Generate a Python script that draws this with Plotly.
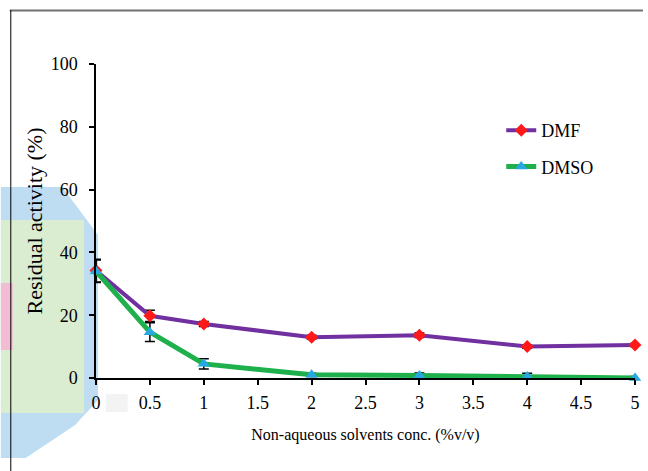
import plotly.graph_objects as go

conc = [0, 0.5, 1, 2, 3, 4, 5]
dmf = [34.2, 19.8, 17.2, 13.0, 13.6, 10.0, 10.5]
dmf_err = [3.6, 1.8, 0.8, 0.6, 0.7, 0.5, 0.5]
dmso = [34.0, 14.6, 4.5, 1.0, 0.8, 0.5, 0.0]
dmso_err = [3.6, 3.0, 1.6, 0.5, 0.8, 1.0, 0.5]
x_ticks = [0, 0.5, 1, 1.5, 2, 2.5, 3, 3.5, 4, 4.5, 5]
y_ticks = [0, 20, 40, 60, 80, 100]

W, H = 648, 471
L, R, T, B = 96, 8, 64, 93
PW, PH = W - L - R, H - T - B


def px(x):
    return (x - L) / PW


def py(y):
    return (H - B - y) / PH


FONT = "Liberation Serif, 'Times New Roman', Times, serif"

fig = go.Figure()
fig.add_trace(go.Scatter(
    x=conc, y=dmf, name="DMF", mode="lines+markers", legendgroup="a",
    line=dict(color="#7030A0", width=4),
    marker=dict(symbol="diamond", color="#FF1A1A", size=10),
    error_y=dict(type="data", array=dmf_err, color="black", thickness=1.5, width=5),
    cliponaxis=False,
))
fig.add_trace(go.Scatter(
    x=conc, y=dmso, name="DMSO", mode="lines+markers", legendgroup="b",
    line=dict(color="#1DB04B", width=5),
    marker=dict(symbol="triangle-up", color="#28A8E0", size=11),
    error_y=dict(type="data", array=dmso_err, color="black", thickness=1.5, width=5),
    cliponaxis=False,
))

shapes = []
# pixelated colour artefact on the left
blue = "rgba(170,210,238,0.75)"
green = "rgba(222,238,205,0.9)"
pink = "rgba(244,182,210,0.9)"
blue_path = "M {} {} L {} {} L {} {} L {} {} L {} {} L {} {} L {} {} Z".format(
    px(0), py(187), px(62), py(187), px(98), py(235), px(98), py(400),
    px(75), py(425), px(25), py(458), px(0), py(458))
shapes.append(dict(type="path", path=blue_path, xref="paper", yref="paper",
                   fillcolor=blue, line=dict(width=0), layer="below"))
shapes.append(dict(type="rect", xref="paper", yref="paper", x0=px(0), x1=px(84),
                   y0=py(413), y1=py(220), fillcolor=green, line=dict(width=0), layer="below"))
shapes.append(dict(type="rect", xref="paper", yref="paper", x0=px(0), x1=px(12),
                   y0=py(350), y1=py(283), fillcolor=pink, line=dict(width=0), layer="below"))
shapes.append(dict(type="rect", xref="paper", yref="paper", x0=px(106), x1=px(128),
                   y0=py(412), y1=py(394), fillcolor="rgba(240,240,240,0.8)", line=dict(width=0), layer="below"))
# frame
shapes.append(dict(type="line", xref="paper", yref="paper", x0=px(9), x1=px(648),
                   y0=py(10.5), y1=py(10.5), line=dict(color="#707070", width=2)))
shapes.append(dict(type="line", xref="paper", yref="paper", x0=px(10), x1=px(10),
                   y0=py(10), y1=py(471), line=dict(color="black", width=1)))

fig.update_layout(
    width=W, height=H,
    margin=dict(l=L, r=R, t=T, b=B),
    paper_bgcolor="white", plot_bgcolor="white",
    font=dict(family=FONT, size=16, color="black"),
    shapes=shapes,
    showlegend=True,
    legend=dict(x=px(505), y=py(112), xanchor="left", yanchor="top",
                font=dict(family=FONT, size=18), tracegroupgap=10,
                bgcolor="rgba(0,0,0,0)"),
    xaxis=dict(range=[0, 5], tickvals=x_ticks, ticktext=[str(t) for t in x_ticks],
               showgrid=False, zeroline=False, showline=True, linecolor="black",
               linewidth=1.5, ticks="outside", ticklen=5, tickwidth=1.5,
               tickcolor="black", tickfont=dict(size=18), ticklabelstandoff=3,
               title=dict(text="Non-aqueous solvents conc. (%v/v)", font=dict(size=16), standoff=16)),
    yaxis=dict(range=[0, 100], tickvals=y_ticks,
               showgrid=False, zeroline=False, showline=True, linecolor="black",
               linewidth=1.5, ticks="outside", ticklen=5, tickwidth=1.5,
               tickcolor="black", tickfont=dict(size=18), ticklabelstandoff=8,
               title=dict(text="Residual activity (%)", font=dict(size=22), standoff=2)),
)

fig.write_html("out.html", config={"displayModeBar": False},
               post_script="document.body.style.margin='0';document.body.style.overflow='hidden';")
